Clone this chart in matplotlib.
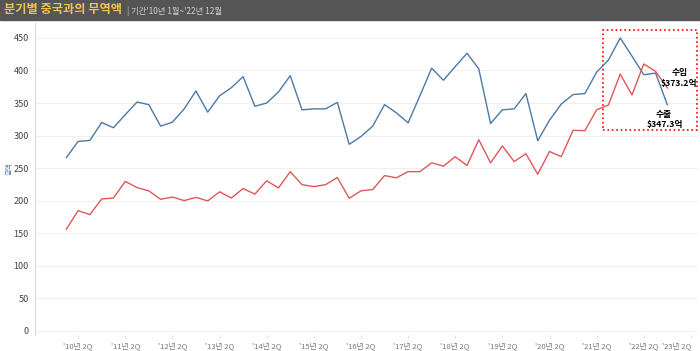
import matplotlib.pyplot as plt
from matplotlib.patches import Rectangle

plt.rcParams['font.family'] = ['Noto Sans CJK KR', 'DejaVu Sans']

# === 데이터 (2010Q1 ~ 2022Q4, 단위: 억 달러) ===
export = [266, 291, 292.5, 320, 312, 332, 351.5, 347.5, 314.5, 320.5,
          341, 368.5, 336, 361, 373.5, 390.5, 345, 350, 367, 392,
          339.5, 341, 341, 351, 286.5, 298.5, 314.5, 347.5, 335, 319.5,
          361, 403.5, 385, 406, 426.5, 402.5, 318.5, 339.5, 341, 364.5,
          292, 323.5, 348.5, 363, 364.5, 397.5, 416, 450, 422, 393.5,
          396, 347.3]
imports = [156, 184.5, 178.5, 202.5, 204, 229.5, 220, 215, 202, 205.5,
           200, 205, 199.5, 213.5, 204, 218.5, 210, 230.5, 219.5, 244.5,
           224.5, 221.5, 224.5, 235.5, 203.5, 215, 217, 238.5, 235, 244.5,
           244.5, 258, 253, 267.5, 254, 293.5, 258, 284, 260, 272,
           240.5, 275.5, 267.5, 308, 307.5, 339.5, 347, 394.5, 362.5, 410,
           398.6, 373.2]
years = list(range(10, 24))
tick_labels = [f"'{y}년 2Q" for y in years]
y_ticks = list(range(0, 451, 50))

c_exp = '#4e79a7'
c_imp = '#e15759'

fig = plt.figure(figsize=(7, 3.51), dpi=100)

# === 타이틀 바 ===
fig.patches.append(Rectangle((0, 1 - 20 / 351), 1, 20 / 351, transform=fig.transFigure,
                             color='#555555', zorder=0))
fig.text(0.005, 1 - 10 / 351, '분기별 중국과의 무역액', color='#f2c14e', fontsize=8.8,
         fontweight='bold', va='center', ha='left')
fig.text(0.182, 1 - 10.5 / 351, "| 기간'10년 1월~'22년 12월", color='#cfcfcf', fontsize=6,
         va='center', ha='left')

ax = fig.add_axes([34.5 / 700, 16 / 351, (698 - 34.5) / 700, (335 - 23) / 351])
x = list(range(len(export)))
ax.plot(x, export, color=c_exp, lw=1)
ax.plot(x, imports, color=c_imp, lw=1)

ax.set_xlim(-2.7, 53.6)
ax.set_ylim(-6.6, 473)
ax.set_yticks(y_ticks)
ax.set_yticklabels([str(v) for v in y_ticks], fontsize=6.5, color='#444444')
ax.set_xticks([4 * i + 1 for i in range(len(years))])
ax.set_xticklabels(tick_labels, fontsize=5.5, color='#777777')
ax.get_xticklabels()[-1].set_ha('right')
ax.tick_params(axis='y', length=0, pad=4)
ax.tick_params(axis='x', length=2, color='#e0e0e0', pad=3)
ax.grid(axis='y', color='#f0f0f0', lw=0.8)
ax.set_axisbelow(True)
for s in ['top', 'right', 'bottom']:
    ax.spines[s].set_visible(False)
ax.spines['left'].set_color('#d9d9d9')

fig.text(0.014, 0.52, '금액', rotation=90, fontsize=5, color=c_exp, va='center', ha='center')

# === 최근 구간 강조 박스 ===
ax.add_patch(Rectangle((45.5, 309), 8.0, 154, fill=False, ls=':', lw=1.2,
                       color='red', clip_on=False))
ax.annotate('수입', (51, imports[-1]), xytext=(9, 11), textcoords='offset points',
            fontsize=6.3, fontweight='bold', ha='center', va='center')
ax.annotate(f'${imports[-1]}억', (51, imports[-1]), xytext=(8, 3.5), textcoords='offset points',
            fontsize=6.3, fontweight='bold', ha='center', va='center')
ax.annotate('수출', (51, export[-1]), xytext=(-3, -7), textcoords='offset points',
            fontsize=6.3, fontweight='bold', ha='center', va='center')
ax.annotate(f'${export[-1]}억', (51, export[-1]), xytext=(-2, -14), textcoords='offset points',
            fontsize=6.3, fontweight='bold', ha='center', va='center')

fig.savefig('out.png', dpi=100)
